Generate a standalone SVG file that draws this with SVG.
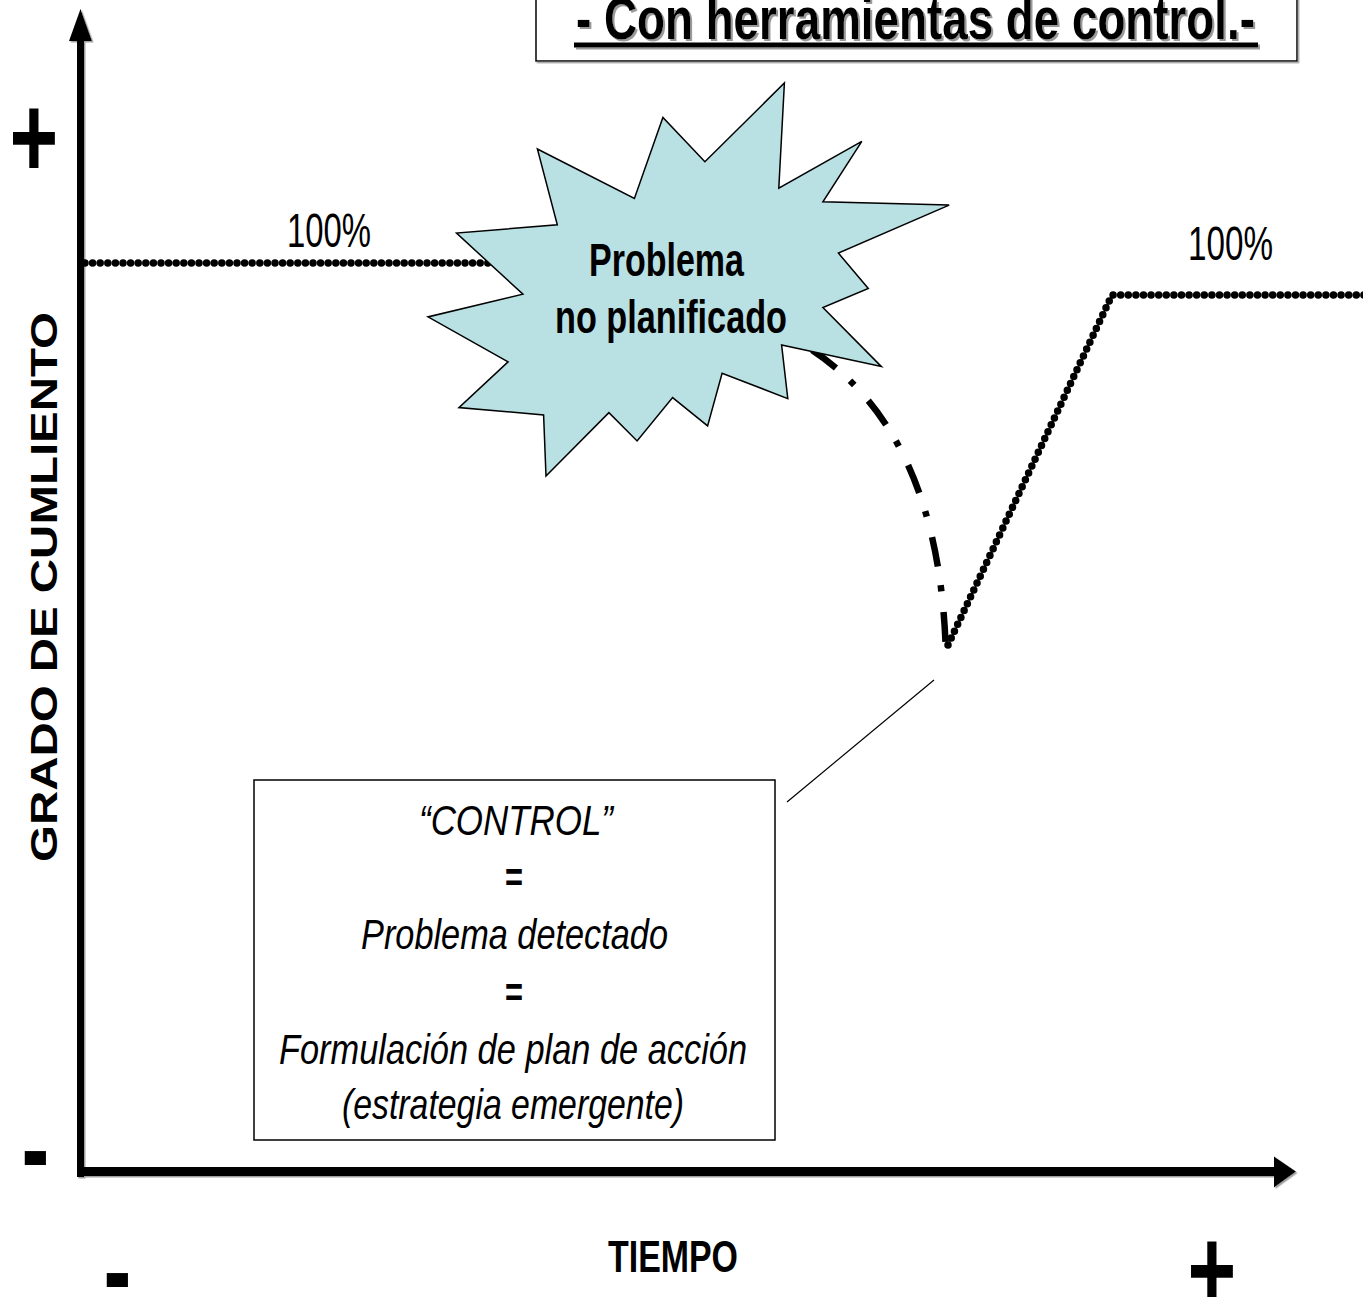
<svg xmlns="http://www.w3.org/2000/svg" width="1363" height="1297" viewBox="0 0 1363 1297">
<defs>
<filter id="sh" x="-5%" y="-20%" width="110%" height="150%">
<feDropShadow dx="2" dy="2" stdDeviation="0" flood-color="#9a9a9a" flood-opacity="1"/>
</filter>
<filter id="sh2" x="-5%" y="-5%" width="110%" height="110%">
<feDropShadow dx="1.5" dy="1.5" stdDeviation="0" flood-color="#a0a0a0" flood-opacity="1"/>
</filter>
<style>
.t{font-family:"Liberation Sans",Arial,sans-serif;fill:#000}
.b{font-weight:bold}
.i{font-style:italic}
.dots{fill:none;stroke:#000;stroke-width:7.5;stroke-linecap:round;stroke-dasharray:0 7.6}
.dashdot{fill:none;stroke:#000;stroke-width:6.5;stroke-dasharray:30 19 6 21}
.thin{fill:none;stroke:#000;stroke-width:1.2}
.box{fill:#fff;stroke:#000;stroke-width:1.5}
</style>
</defs>
<rect width="1363" height="1297" fill="#fff"/>

<g id="title">
<rect x="536" y="-3" width="761" height="64" fill="#fff" stroke="#000" stroke-width="1.5" filter="url(#sh2)"/>
<g filter="url(#sh)">
<text class="t b" x="576" y="39" font-size="60" textLength="679" lengthAdjust="spacingAndGlyphs">- Con herramientas de control.-</text>
<rect x="574" y="42.5" width="684" height="5"/>
</g>
</g>

<g id="axes" filter="url(#sh2)">
<rect x="77" y="38" width="7" height="1139"/>
<polygon points="80.5,9 69,41 92,41"/>
<rect x="77" y="1167" width="1198" height="9"/>
<polygon points="1296,1171.5 1274,1156.5 1274,1187.5"/>
</g>

<g id="connectors">
<path class="dots" d="M85,263 H515"/>
<path class="dots" d="M948,645 L1112,295 H1366"/>
<path class="dashdot" d="M812,350 C872,390 942,470 946,658"/>
<path class="thin" d="M934,680 L787,802"/>
</g>

<g id="problem">
<polygon points="784.4,83 778.8,188.1 861.8,141.4 822.9,201.8 949.1,205.1 838.4,253.1 868.3,288.5 822.9,307.5 881.4,366.6 781.6,344.9 787.8,398.6 722.1,373.2 707.6,425.9 672.6,397.6 637.1,441 608.9,412.6 546,476 543.6,414.9 458.9,407.6 508.1,361.9 428,316.9 522.9,294.2 456.5,233.1 557.3,224.8 537.4,149 634.4,198.4 662.9,117.4 704.9,161.7" fill="#b9e0e3" stroke="#000" stroke-width="1.5" stroke-linejoin="miter"/>
<text class="t b" x="589" y="276" font-size="46" textLength="155" lengthAdjust="spacingAndGlyphs">Problema</text>
<text class="t b" x="555" y="333" font-size="46" textLength="232" lengthAdjust="spacingAndGlyphs">no planificado</text>
</g>

<g id="label-100-left">
<text class="t" x="287" y="247" font-size="48" textLength="84" lengthAdjust="spacingAndGlyphs">100%</text>
</g>
<g id="label-100-right">
<text class="t" x="1188" y="260" font-size="48" textLength="85" lengthAdjust="spacingAndGlyphs">100%</text>
</g>

<g id="control-box">
<rect class="box" x="254" y="780" width="521" height="360"/>
<text class="t i" x="419" y="835" font-size="43" textLength="194" lengthAdjust="spacingAndGlyphs">“CONTROL”</text>
<text class="t b" x="505" y="892" font-size="43" textLength="18" lengthAdjust="spacingAndGlyphs">=</text>
<text class="t i" x="361" y="949" font-size="43" textLength="307" lengthAdjust="spacingAndGlyphs">Problema detectado</text>
<text class="t b" x="505" y="1007" font-size="43" textLength="18" lengthAdjust="spacingAndGlyphs">=</text>
<text class="t i" x="279" y="1064" font-size="43" textLength="468" lengthAdjust="spacingAndGlyphs">Formulación de plan de acción</text>
<text class="t i" x="342" y="1119" font-size="43" textLength="342" lengthAdjust="spacingAndGlyphs">(estrategia emergente)</text>
</g>

<g id="y-label">
<text class="t b" transform="translate(57,862) rotate(-90)" x="0" y="0" font-size="36" textLength="550" lengthAdjust="spacingAndGlyphs">GRADO DE CUMLIENTO</text>
</g>
<g id="x-label">
<text class="t b" x="608" y="1272" font-size="44" textLength="130" lengthAdjust="spacingAndGlyphs">TIEMPO</text>
</g>

<g id="signs">
<text class="t b" transform="translate(34,177) scale(0.72,1)" text-anchor="middle" font-size="116">+</text>
<text class="t b" transform="translate(35.5,1188) scale(0.72,1)" text-anchor="middle" font-size="116">-</text>
<text class="t b" transform="translate(117.5,1310) scale(0.72,1)" text-anchor="middle" font-size="116">-</text>
<text class="t b" transform="translate(1212,1310) scale(0.72,1)" text-anchor="middle" font-size="116">+</text>
</g>
</svg>
